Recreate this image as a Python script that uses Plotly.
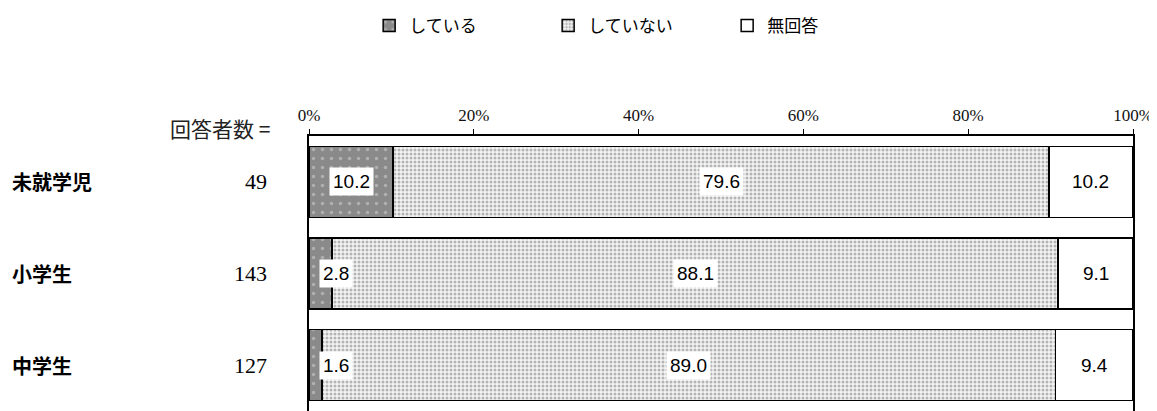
import plotly.graph_objects as go

categories = ["未就学児", "小学生", "中学生"]
respondents = [49, 143, 127]
series_names = ["している", "していない", "無回答"]
doing = [10.2, 2.8, 1.6]
not_doing = [79.6, 88.1, 89.0]
no_answer = [10.2, 9.1, 9.4]
tick_vals = [0, 20, 40, 60, 80, 100]
tick_text = ["0%", "20%", "40%", "60%", "80%", "100%"]

series_values = [doing, not_doing, no_answer]

JP = "Noto Sans CJK JP"
SERIF = "Liberation Serif"
NUM = "Liberation Sans, Arial"

markers = [
    dict(color="#8c8c8c", line=dict(color="#000000", width=1.5),
         pattern=dict(shape=".", fgcolor="#b0b0b0", bgcolor="#8a8a8a", size=9, solidity=0.12, fillmode="replace")),
    dict(color="#e6e6e6", line=dict(color="#000000", width=1.5),
         pattern=dict(shape=".", fgcolor="#b4b4b4", bgcolor="#f4f4f4", size=4, solidity=0.45, fillmode="replace")),
    dict(color="#ffffff", line=dict(color="#000000", width=1.5)),
]

fig = go.Figure()
for name, vals, mk in zip(series_names, series_values, markers):
    fig.add_trace(go.Bar(
        y=categories, x=vals, name=name, orientation="h",
        marker=mk, hoverinfo="skip",
    ))

annotations = []
# data labels
for ci, cat in enumerate(categories):
    cum = 0
    for si, vals in enumerate(series_values):
        v = vals[ci]
        center = cum + v / 2
        if si == 0:
            center = max(center, 3.3)
        annotations.append(dict(
            x=center, y=cat, xref="x", yref="y", text=f"{v:.1f}",
            showarrow=False, font=dict(family=NUM, size=19, color="#000000"),
            bgcolor="#ffffff", borderpad=3,
        ))
        cum += v
# category labels and respondent counts
for cat, n in zip(categories, respondents):
    annotations.append(dict(
        x=-0.363, y=cat, xref="paper", yref="y", text=f"<b>{cat}</b>",
        xanchor="left", showarrow=False, font=dict(family=JP, size=20, color="#000000"),
    ))
    annotations.append(dict(
        x=-0.049, y=cat, xref="paper", yref="y", text=str(n),
        xanchor="right", showarrow=False, font=dict(family=SERIF, size=22, color="#000000"),
    ))
annotations.append(dict(
    x=-0.045, y=1.03, xref="paper", yref="paper", text="回答者数 =",
    xanchor="right", yanchor="middle", showarrow=False,
    font=dict(family=JP, size=21, color="#222222"),
))

fig.update_layout(
    width=1149, height=403,
    margin=dict(l=301, r=24, t=128, b=0),
    plot_bgcolor="#ffffff", paper_bgcolor="#ffffff",
    barmode="stack", bargap=0.225,
    showlegend=True,
    legend=dict(
        orientation="h", x=0.073, xanchor="left", y=1.40, yanchor="middle",
        font=dict(family=JP, size=17, color="#000000"),
        entrywidth=134, entrywidthmode="pixels", traceorder="normal",
    ),
    xaxis=dict(
        side="top", range=[0, 100], tickvals=tick_vals, ticktext=tick_text,
        showgrid=False, zeroline=False, showline=True, linecolor="#000000", linewidth=1.5,
        ticks="outside", ticklen=5, tickcolor="#000000", tickwidth=1,
        ticklabelstandoff=1,
        tickfont=dict(family=SERIF, size=17, color="#111111"), fixedrange=True,
    ),
    yaxis=dict(
        categoryorder="array", categoryarray=categories, autorange="reversed",
        showticklabels=False, showgrid=False, zeroline=False,
        showline=True, mirror=True, linecolor="#000000", linewidth=1.5, ticks="",
    ),
    annotations=annotations,
)

fig.write_html("out.html")
